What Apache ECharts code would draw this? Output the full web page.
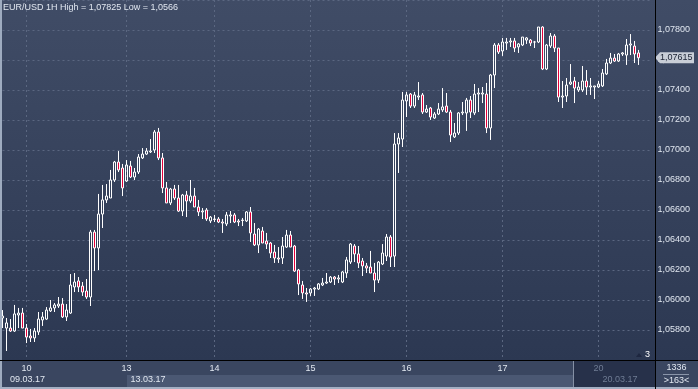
<!DOCTYPE html>
<html>
<head>
<meta charset="utf-8">
<script src="https://cdn.jsdelivr.net/npm/echarts/dist/echarts.min.js"></script>
<style>
html,body{margin:0;padding:0;width:698px;height:389px;overflow:hidden;background:#3a4660;}
.l{position:absolute;pointer-events:none;}
#plotbg{left:0;top:0;width:698px;height:361px;background:linear-gradient(#404c66,#2c3852);}
#row1{left:0;top:361px;width:698px;height:28px;background:#3a4660;}
#row2{left:127px;top:375px;width:446px;height:12px;background:#4b5873;}
#ovl{left:573px;top:361px;width:82px;height:26px;background:#27314a;border-left:1px solid #8590a5;}
#lstripe{left:0;top:0;width:2px;height:389px;background:#9eabbf;}
#bstripe{left:0;top:387px;width:698px;height:2px;background:#a3afc3;}
#vline{left:655px;top:0;width:1px;height:389px;background:#000;}
#hline{left:0;top:360px;width:698px;height:1px;background:#000;}
#chart{position:absolute;left:0;top:0;width:698px;height:389px;}
</style>
</head>
<body>
<div class="l" id="plotbg"></div>
<div class="l" id="row1"></div>
<div class="l" id="row2"></div>
<div class="l" id="ovl"></div>
<div id="chart"></div>
<div class="l" id="lstripe"></div>
<div class="l" id="bstripe"></div>
<div class="l" id="vline"></div>
<div class="l" id="hline"></div>
<script>
// ---- data ----
const titleText = 'EUR/USD 1H High = 1,07825 Low = 1,0566';
const dayIndex = [6, 31, 53, 77, 101, 125, 149];
const dayNames = ['10', '13', '14', '15', '16', '17', '20'];
const dateRowIndex = [0, 31, 149];
const dateRowNames = ['09.03.17', '13.03.17', '20.03.17'];
const slotCount = 163;
const volumeText = '1336';
const barsText = '>163<';

const openP = [
1.05880,1.05813,1.05813,1.05793,1.05900,1.05913,1.05813,1.05760,1.05747,1.05787,
1.05867,1.05873,1.05927,1.05947,1.05960,1.05973,1.05887,1.05913,1.06087,1.06127,
1.06093,1.06060,1.06020,1.06453,1.06347,1.06573,1.06667,1.06680,1.06800,1.06920,
1.06880,1.06793,1.06893,1.06820,1.06853,1.06947,1.06973,1.06987,1.07000,1.07120,
1.06947,1.06747,1.06647,1.06740,1.06680,1.06593,1.06700,1.06660,1.06693,1.06620,
1.06587,1.06600,1.06527,1.06540,1.06540,1.06520,1.06507,1.06560,1.06567,1.06527,
1.06533,1.06527,1.06587,1.06440,1.06367,1.06460,1.06393,1.06380,1.06320,1.06280,
1.06280,1.06353,1.06433,1.06360,1.06200,1.06100,1.06047,1.06047,1.06073,1.06073,
1.06100,1.06113,1.06120,1.06153,1.06140,1.06120,1.06180,1.06253,1.06360,1.06307,
1.06260,1.06227,1.06220,1.06180,1.06133,1.06240,1.06293,1.06420,1.06293,1.07040,
1.07073,1.07327,1.07373,1.07293,1.07353,1.07367,1.07253,1.07280,1.07213,1.07240,
1.07267,1.07293,1.07253,1.07087,1.07113,1.07247,1.07247,1.07333,1.07247,1.07373,
1.07373,1.07373,1.07147,1.07500,1.07700,1.07660,1.07713,1.07720,1.07727,1.07687,
1.07700,1.07733,1.07733,1.07720,1.07720,1.07820,1.07540,1.07693,1.07760,1.07680,
1.07353,1.07360,1.07440,1.07460,1.07400,1.07400,1.07460,1.07420,1.07420,1.07420,
1.07427,1.07507,1.07580,1.07613,1.07593,1.07640,1.07633,1.07700,1.07693,1.07647
];
const highP = [
1.05933,1.05880,1.05873,1.05967,1.05947,1.05947,1.05840,1.05807,1.05813,1.05920,
1.05920,1.05953,1.06000,1.05980,1.06020,1.06013,1.05973,1.06173,1.06180,1.06153,
1.06120,1.06140,1.06467,1.06467,1.06707,1.06767,1.06773,1.06867,1.06927,1.06993,
1.06907,1.06933,1.06927,1.06880,1.06973,1.07013,1.07013,1.07073,1.07133,1.07147,
1.06980,1.06787,1.06747,1.06767,1.06767,1.06707,1.06727,1.06800,1.06747,1.06667,
1.06613,1.06613,1.06560,1.06567,1.06553,1.06540,1.06587,1.06593,1.06580,1.06540,
1.06547,1.06593,1.06620,1.06513,1.06480,1.06487,1.06447,1.06387,1.06367,1.06353,
1.06420,1.06467,1.06460,1.06367,1.06207,1.06127,1.06080,1.06080,1.06087,1.06113,
1.06147,1.06180,1.06160,1.06160,1.06167,1.06193,1.06287,1.06380,1.06373,1.06360,
1.06280,1.06247,1.06327,1.06247,1.06260,1.06373,1.06440,1.06433,1.07113,1.07113,
1.07387,1.07387,1.07380,1.07387,1.07453,1.07380,1.07300,1.07287,1.07253,1.07313,
1.07413,1.07380,1.07267,1.07180,1.07253,1.07320,1.07347,1.07360,1.07440,1.07413,
1.07420,1.07447,1.07507,1.07713,1.07713,1.07747,1.07747,1.07747,1.07747,1.07713,
1.07753,1.07753,1.07740,1.07727,1.07820,1.07825,1.07707,1.07780,1.07773,1.07680,
1.07460,1.07480,1.07573,1.07487,1.07453,1.07560,1.07533,1.07480,1.07427,1.07460,
1.07540,1.07607,1.07647,1.07640,1.07647,1.07653,1.07740,1.07773,1.07727,1.07667
];
const lowP = [
1.05813,1.05660,1.05787,1.05787,1.05813,1.05813,1.05713,1.05720,1.05720,1.05767,
1.05827,1.05867,1.05920,1.05920,1.05947,1.05880,1.05860,1.05907,1.06053,1.06053,
1.06027,1.06007,1.05960,1.06193,1.06200,1.06480,1.06647,1.06680,1.06787,1.06853,
1.06693,1.06787,1.06813,1.06800,1.06840,1.06940,1.06967,1.06980,1.06980,1.06933,
1.06713,1.06647,1.06633,1.06667,1.06587,1.06560,1.06553,1.06647,1.06620,1.06560,
1.06540,1.06527,1.06513,1.06520,1.06513,1.06447,1.06493,1.06513,1.06513,1.06493,
1.06493,1.06520,1.06387,1.06360,1.06313,1.06380,1.06340,1.06280,1.06247,1.06247,
1.06240,1.06347,1.06353,1.06187,1.06033,1.06007,1.05987,1.06027,1.06027,1.06067,
1.06093,1.06107,1.06113,1.06100,1.06113,1.06113,1.06147,1.06240,1.06253,1.06213,
1.06160,1.06180,1.06180,1.06053,1.06113,1.06233,1.06260,1.06220,1.06220,1.06847,
1.07020,1.07220,1.07280,1.07280,1.07333,1.07240,1.07247,1.07200,1.07207,1.07233,
1.07253,1.07247,1.07053,1.07080,1.07100,1.07233,1.07127,1.07213,1.07233,1.07253,
1.07313,1.07113,1.07067,1.07413,1.07640,1.07627,1.07667,1.07687,1.07653,1.07647,
1.07693,1.07707,1.07693,1.07680,1.07713,1.07533,1.07533,1.07680,1.07653,1.07320,
1.07280,1.07320,1.07433,1.07313,1.07387,1.07387,1.07367,1.07367,1.07340,1.07413,
1.07420,1.07500,1.07573,1.07587,1.07587,1.07627,1.07567,1.07633,1.07580,1.07567
];
const closeP = [
1.05893,1.05847,1.05793,1.05907,1.05913,1.05813,1.05753,1.05747,1.05793,1.05873,
1.05887,1.05933,1.05947,1.05967,1.05973,1.05887,1.05933,1.06100,1.06120,1.06087,
1.06053,1.06020,1.06453,1.06347,1.06573,1.06667,1.06693,1.06800,1.06920,1.06867,
1.06747,1.06900,1.06820,1.06853,1.06953,1.06973,1.06993,1.06993,1.07120,1.06947,
1.06747,1.06647,1.06740,1.06680,1.06593,1.06700,1.06660,1.06693,1.06620,1.06587,
1.06593,1.06540,1.06553,1.06537,1.06520,1.06513,1.06567,1.06567,1.06520,1.06520,
1.06530,1.06587,1.06447,1.06367,1.06473,1.06380,1.06373,1.06313,1.06280,1.06273,
1.06360,1.06433,1.06353,1.06193,1.06107,1.06047,1.06040,1.06073,1.06080,1.06107,
1.06113,1.06120,1.06153,1.06140,1.06147,1.06187,1.06267,1.06373,1.06307,1.06247,
1.06227,1.06213,1.06180,1.06133,1.06253,1.06313,1.06420,1.06287,1.07040,1.07080,
1.07333,1.07367,1.07293,1.07367,1.07360,1.07253,1.07273,1.07220,1.07240,1.07273,
1.07287,1.07253,1.07100,1.07113,1.07247,1.07253,1.07333,1.07253,1.07373,1.07380,
1.07380,1.07147,1.07500,1.07700,1.07653,1.07720,1.07720,1.07727,1.07680,1.07707,
1.07753,1.07747,1.07713,1.07720,1.07820,1.07540,1.07700,1.07760,1.07680,1.07353,
1.07360,1.07433,1.07453,1.07413,1.07420,1.07460,1.07420,1.07427,1.07427,1.07440,
1.07513,1.07580,1.07613,1.07593,1.07640,1.07647,1.07700,1.07707,1.07640,1.07615
];

// ---- category slots (hourly, unique names) ----
const categories = [];
for (let i = 0; i < slotCount; i++) {
  let d = '09', h = 18 + i;
  for (let j = 0; j < dayIndex.length; j++) {
    if (i >= dayIndex[j]) { d = dayNames[j]; h = i - dayIndex[j]; }
  }
  if (h > 23) { d = '12'; h = 23; }
  categories.push(d + '.03 ' + String(h).padStart(2, '0') + ':00');
}
const candles = openP.map((o, i) => [o, closeP[i], lowP[i], highP[i]]);

const FONT = '"Liberation Sans", Arial, sans-serif';
const TXT = '#e1e7f0';
const fmt = v => v.toFixed(5).replace('.', ',');
const isDay = (i) => dayIndex.indexOf(i) >= 0;

const chart = echarts.init(document.getElementById('chart'));
chart.setOption({
  backgroundColor: 'transparent',
  animation: false,
  title: {
    text: titleText, left: 3, top: 3, padding: 0,
    textStyle: {color: TXT, fontSize: 9, fontWeight: 'normal', fontFamily: FONT}
  },
  grid: {left: 2.5, top: 0, width: 648, height: 360},
  xAxis: {
    type: 'category', data: categories, boundaryGap: false,
    axisLine: {show: false}, axisTick: {show: false, interval: isDay},
    axisLabel: {
      interval: isDay,
      margin: 4, fontSize: 9, fontFamily: FONT, color: TXT,
      formatter: (v, i) => {
        const j = dayIndex.indexOf(i);
        if (j < 0) return '';
        return j === dayIndex.length - 1 ? '{dim|' + dayNames[j] + '}' : dayNames[j];
      },
      rich: {dim: {color: '#6f7c94', fontSize: 9, fontFamily: FONT}}
    },
    splitLine: {
      show: true, interval: isDay, showMinLine: true,
      lineStyle: {color: '#5b6781', width: 1, type: [2, 3]}
    }
  },
  yAxis: {
    type: 'value', position: 'right', min: 1.056, max: 1.08, interval: 0.002,
    axisLine: {show: false}, axisTick: {show: false},
    axisLabel: {margin: 7, fontSize: 9, fontFamily: FONT, color: TXT, formatter: fmt,
      showMinLabel: false, showMaxLabel: false},
    splitLine: {lineStyle: {color: '#5b6781', width: 1, type: [2, 3]}}
  },
  series: [{
    type: 'candlestick', data: candles, barWidth: 2, clip: false,
    itemStyle: {
      color: 'rgba(0,0,0,0)', color0: '#e4003a',
      borderColor: '#ffffff', borderColor0: '#ffffff', borderColorDoji: '#ffffff', borderWidth: 1
    }
  }]
});

const lastClose = closeP[closeP.length - 1];
const py = chart.convertToPixel({yAxisIndex: 0}, lastClose);
const graphics = [
  {type: 'polygon', z: 50, shape: {points: [[655, py], [660, py - 5.5], [694, py - 5.5], [694, py + 5.5], [660, py + 5.5]]},
   style: {fill: '#c9ced7'}},
  {type: 'text', z: 51, x: 660, y: py, style: {text: fmt(lastClose), fill: '#1b2233', font: '9px ' + FONT, verticalAlign: 'middle'}},
  {type: 'text', z: 51, x: 645, y: 355, style: {text: '3', fill: '#ffffff', font: '9px ' + FONT, verticalAlign: 'middle'}},
  {type: 'polygon', z: 50, shape: {points: [[636, 357], [639, 353], [642, 357]]}, style: {fill: '#1e2740'}},
  {type: 'text', z: 51, x: 676.5, y: 368, style: {text: volumeText, fill: TXT, font: '9px ' + FONT, align: 'center', verticalAlign: 'middle'}},
  {type: 'line', z: 51, shape: {x1: 663, y1: 374.5, x2: 689, y2: 374.5}, style: {stroke: '#8a95a9', lineWidth: 1}},
  {type: 'text', z: 51, x: 676.5, y: 381, style: {text: barsText, fill: TXT, font: '9px ' + FONT, align: 'center', verticalAlign: 'middle'}}
];
dateRowIndex.forEach((idx, j) => {
  const px = chart.convertToPixel({xAxisIndex: 0}, idx);
  graphics.push({type: 'text', z: 51, x: Math.max(10, px + 4), y: 380,
    style: {text: dateRowNames[j], fill: j === dateRowIndex.length - 1 ? '#6f7c94' : TXT,
      font: '9px ' + FONT, verticalAlign: 'middle'}});
});
chart.setOption({graphic: graphics});
</script>
</body>
</html>
